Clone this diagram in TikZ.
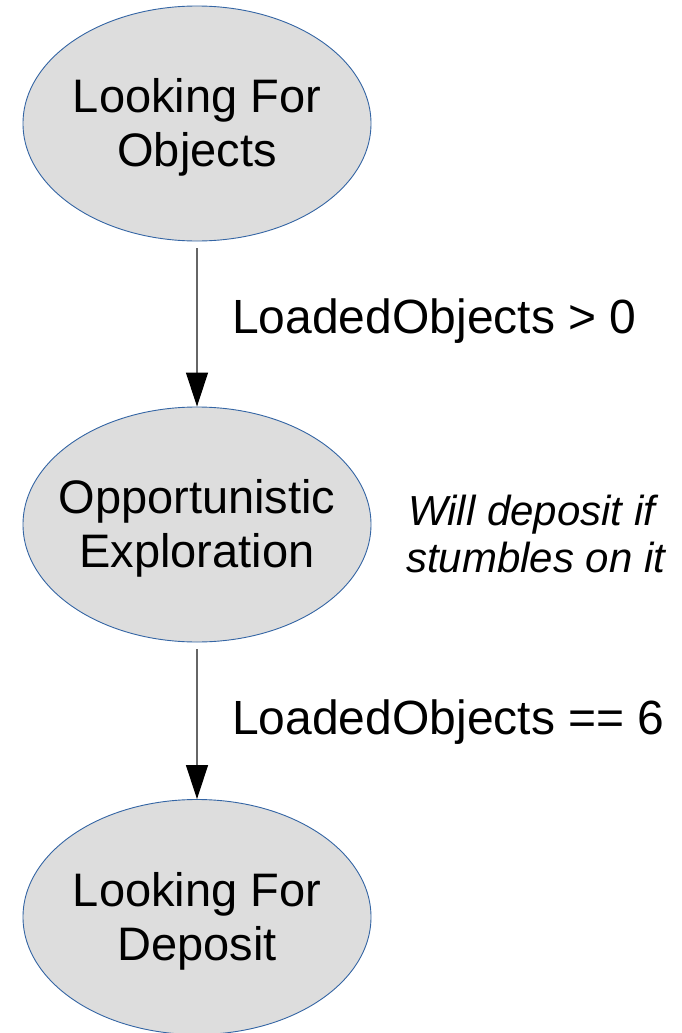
\documentclass[tikz,border=0pt]{standalone}
\usepackage{fontspec}
\setmainfont{Liberation Sans}
\usetikzlibrary{arrows.meta,shapes.geometric}
\definecolor{fillgray}{RGB}{221,221,221}
\definecolor{edgeblue}{RGB}{52,101,164}
\newcommand{\toppad}{\rule{0pt}{42pt}}
\begin{document}
\begin{tikzpicture}[x=1pt,y=-1pt,
 state/.style={ellipse, draw=edgeblue, fill=fillgray, line width=0.9pt, minimum width=348pt, minimum height=235pt, inner ysep=0pt, inner xsep=-30pt, align=center, font=\fontsize{47}{54}\selectfont},
 trans/.style={draw=black!60, line width=1.2pt, shorten <=7pt, -{Triangle[width=22pt,length=34pt,color=black]}},
 cond/.style={anchor=base west, inner sep=0pt, font=\fontsize{48}{55}\selectfont},
 note/.style={anchor=base west, inner sep=0pt, font=\fontsize{42}{47}\selectfont\itshape}]
\useasboundingbox (0,0) rectangle (681,1033);
\clip (0,0) rectangle (681,1033);
\node[state] (a) at (197,123.5) {\toppad Looking For\\Objects};
\node[state] (b) at (197,524.5) {\toppad Opportunistic\\Exploration};
\node[state] (c) at (197,917) {\toppad Looking For\\Deposit};
\draw[trans] (a) -- (b);
\draw[trans] (b) -- (c);
\node[cond] (l1) at (232,333) {LoadedObjects > 0};
\node[cond] (l2) at (232,734) {LoadedObjects == 6};
\node[note] (n1) at (408,525) {Will deposit if};
\node[note] (n2) at (406,572) {stumbles on it};
\end{tikzpicture}
\end{document}
